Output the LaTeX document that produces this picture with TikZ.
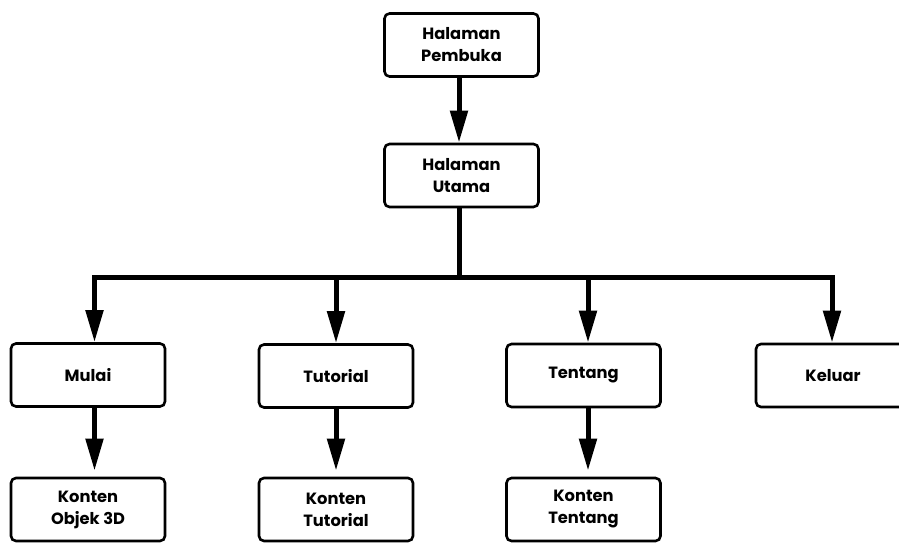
\documentclass[tikz,border=0pt]{standalone}
\usepackage{fontspec}
\setmainfont{Poppins}
\usetikzlibrary{arrows.meta}
\begin{document}
\begin{tikzpicture}[x=1pt,y=-1pt,
  box/.style={draw, line width=2.6pt, rounded corners=5pt, minimum width=154pt,
    minimum height=63pt, align=center, inner sep=0pt,
    font=\fontsize{16.3}{22}\selectfont\bfseries},
  conn/.style={line width=5pt},
  arr/.style={conn, -{Triangle[length=32pt,width=17pt]}},
  arrgap/.style={arr, shorten >=6pt}]
\useasboundingbox (0,0) rectangle (899,543);
% nodes
\node[box] (hp) at (461.5,45) {Halaman\\Pembuka};
\node[box] (hu) at (461.5,175.5) {Halaman\\Utama};
\node[box] (mulai) at (88,375) {Mulai};
\node[box] (tut) at (336,376) {Tutorial};
\node[box] (ten) at (583.5,375.5) {Tentang};
\node[box] (kel) at (833,375.5) {Keluar};
\node[box] (k1) at (88,509.5) {Konten\\Objek 3D};
\node[box] (k2) at (336,509.5) {Konten\\Tutorial};
\node[box] (k3) at (583.5,509.5) {Konten\\Tentang};
% bus coordinates
\coordinate (b1) at (94.5,277.5);
\coordinate (b2) at (336,277.5);
\coordinate (b3) at (588,277.5);
\coordinate (b4) at (832,277.5);
\coordinate (bm) at (459,277.5);
% connectors
\draw[arr] (hp.south -| bm) -- (hu.north -| bm);
\draw[conn] (hu.south -| bm) -- (bm);
\draw[conn, line cap=rect] (b1) -- (b4);
\draw[arr] (b1) -- (b1 |- mulai.north);
\draw[arr] (b2) -- (b2 |- tut.north);
\draw[arr] (b3) -- (b3 |- ten.north);
\draw[arr] (b4) -- (b4 |- kel.north);
\draw[arrgap] (b1 |- mulai.south) -- (b1 |- k1.north);
\draw[arrgap] (b2 |- tut.south) -- (b2 |- k2.north);
\draw[arrgap] (b3 |- ten.south) -- (b3 |- k3.north);
\end{tikzpicture}
\end{document}
